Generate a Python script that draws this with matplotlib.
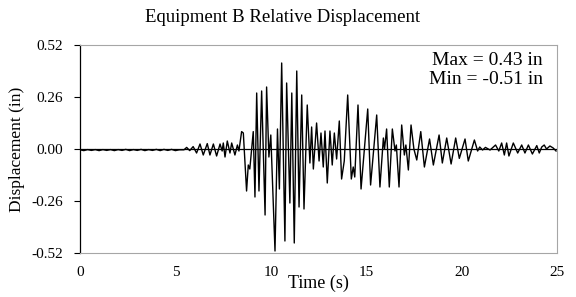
import numpy as np
import matplotlib
matplotlib.use('Agg')
import matplotlib.pyplot as plt

plt.rcParams['font.family'] = ['Liberation Serif', 'DejaVu Serif']

# quiet part before the shaking starts
pre_t = [0.0, 0.2, 0.4, 0.6, 0.8, 1.0, 1.2, 1.4, 1.6, 1.8, 2.0, 2.2, 2.4, 2.6,
         2.8, 3.0, 3.2, 3.4, 3.6, 3.8, 4.0, 4.2, 4.4, 4.6, 4.8, 5.0, 5.2]
pre_d = [-0.004, -0.008, -0.003, -0.007, -0.003, -0.008, -0.003, -0.007, -0.003,
         -0.008, -0.003, -0.007, -0.002, -0.008, -0.003, -0.007, -0.002, -0.008,
         -0.003, -0.007, -0.002, -0.008, -0.002, -0.007, -0.002, -0.008, -0.004]

# peaks and troughs
time = [5.45, 5.59, 5.75, 5.93, 6.11, 6.29, 6.46, 6.67, 6.81, 6.99, 7.16, 7.34,
        7.45, 7.51, 7.6, 7.72, 7.86, 7.95, 8.12, 8.25, 8.33, 8.47, 8.56, 8.73,
        8.82, 8.9, 9.08, 9.17, 9.26, 9.38, 9.52, 9.7, 9.78, 9.9, 10.0, 10.22,
        10.35, 10.45, 10.57, 10.74, 10.83, 11.0, 11.1, 11.23, 11.36, 11.48,
        11.62, 11.74, 11.91, 12.05, 12.14, 12.23, 12.4, 12.53, 12.63, 12.75,
        12.84, 12.96, 13.1, 13.22, 13.33, 13.45, 13.59, 13.71, 13.85, 14.03,
        14.22, 14.32, 14.4, 14.57, 14.73, 15.08, 15.23, 15.55, 15.72, 15.9,
        15.96, 16.07, 16.21, 16.37, 16.51, 16.58, 16.72, 16.86, 17.0, 17.08,
        17.21, 17.35, 17.5, 17.65, 17.86, 18.05, 18.32, 18.52, 18.82, 18.99,
        19.22, 19.45, 19.69, 19.88, 20.18, 20.35, 20.67, 20.84, 20.95, 21.1,
        21.25, 21.49, 21.78, 21.95, 22.1, 22.24, 22.36, 22.48, 22.71, 22.94,
        23.15, 23.32, 23.5, 23.71, 23.94, 24.07, 24.2, 24.33, 24.45, 24.63,
        24.8, 24.95]
disp = [-0.004, 0.008, -0.008, 0.012, -0.02, 0.025, -0.03, 0.027, -0.03, 0.025,
        -0.035, 0.025, -0.01, 0.03, -0.04, 0.04, -0.02, 0.03, -0.03, 0.02,
        -0.01, 0.087, 0.08, -0.21, -0.08, -0.1, 0.087, -0.24, 0.28, -0.21,
        0.29, -0.33, 0.31, -0.04, 0.07, -0.51, 0.1, -0.2, 0.43, -0.46, 0.33,
        -0.27, 0.28, -0.47, 0.39, -0.29, 0.27, -0.3, 0.22, -0.07, 0.11, -0.1,
        0.13, -0.06, 0.08, -0.09, 0.09, -0.17, 0.09, -0.08, 0.08, -0.05, 0.14,
        -0.15, -0.06, 0.27, -0.15, -0.09, -0.14, 0.22, -0.2, 0.2, -0.18, 0.17,
        -0.19, 0.055, 0.0, 0.1, -0.19, 0.1, -0.01, 0.02, -0.19, 0.12, -0.03,
        0.02, -0.105, 0.12, 0.0, -0.055, 0.087, -0.09, 0.05, -0.08, 0.07,
        -0.07, 0.055, -0.075, 0.055, -0.047, 0.05, -0.06, 0.045, -0.01, 0.01,
        -0.005, 0.008, -0.005, 0.02, -0.01, 0.03, -0.03, 0.03, -0.035, 0.03,
        -0.02, 0.02, -0.02, 0.02, -0.025, 0.017, -0.02, 0.01, 0.02, 0.0, 0.015,
        0.005, -0.01]

yticks = [-0.52, -0.26, 0.0, 0.26, 0.52]
xticks = [0, 5, 10, 15, 20, 25]

t_all = pre_t + time
d_all = pre_d + disp

fig = plt.figure(figsize=(5.76, 2.97), dpi=100)
ax = fig.add_axes([80/576, 1 - 253/297, 477/576, 208/297])

ax.plot(t_all, d_all, color='black', lw=1.0)
ax.axhline(0, color='black', lw=0.9)

ax.set_xlim(0, 25)
ax.set_ylim(-0.52, 0.52)
ax.set_xticks(xticks)
ax.set_yticks(yticks)
ax.set_yticklabels(['%.2f' % v for v in yticks])
ax.tick_params(axis='y', direction='out', length=4, width=0.8, pad=8, labelsize=11)
ax.tick_params(axis='x', length=0, pad=9, labelsize=11)

for s in ['top', 'right', 'bottom']:
    ax.spines[s].set_color('#a6a6a6')
    ax.spines[s].set_linewidth(0.8)
ax.spines['left'].set_color('black')
ax.spines['left'].set_linewidth(0.9)

ax.set_xlabel('Time (s)', fontsize=13, labelpad=-3)
ax.set_ylabel('Displacement (in)', fontsize=12.5, labelpad=5)

ax.text(0.97, 0.965, 'Max = 0.43 in\nMin = -0.51 in', transform=ax.transAxes,
        ha='right', va='top', fontsize=14, linespacing=1.12)

fig.text(0.49, 1 - 18/297, 'Equipment B Relative Displacement', ha='center',
         va='center', fontsize=13.5)

fig.savefig('out.png', dpi=100)
